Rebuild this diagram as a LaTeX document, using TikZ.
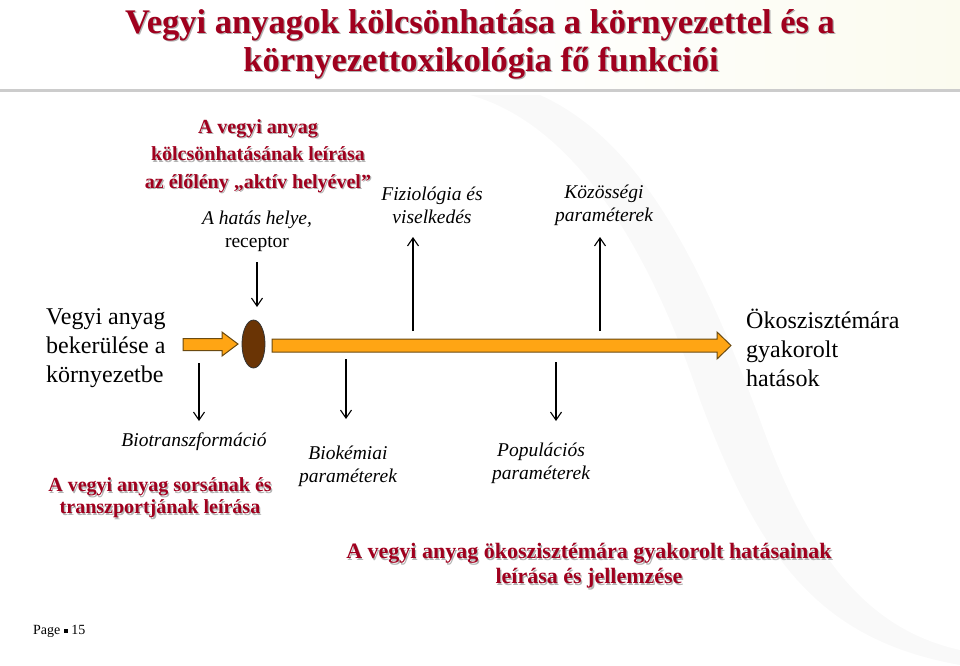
\documentclass[tikz,border=0pt]{standalone}
\usepackage{fontspec}
\setmainfont{Liberation Serif}
\usetikzlibrary{arrows.meta,shapes.geometric}
\definecolor{tred}{HTML}{A0001E}
\definecolor{orng}{HTML}{FFA514}
\definecolor{orbd}{HTML}{6B4A10}
\definecolor{brwn}{HTML}{6A3405}
\definecolor{cream}{HTML}{FBFBEF}
\newcommand\shtx[4]{%
  \node[#2,text=black!30] at ([shift={(1.3,1.3)}]#3) {#4};
  \node[#2] (#1) at (#3) {#4};}
\tikzset{
  ttl/.style={font=\fontsize{34.5}{38}\selectfont\bfseries, text=tred, align=center, inner sep=0},
  rtext/.style={font=\fontsize{20}{27.5}\selectfont\bfseries, text=tred, align=center, inner sep=0},
  rtextb/.style={font=\fontsize{22}{25}\selectfont\bfseries, text=tred, align=center, inner sep=0},
  rtextc/.style={font=\fontsize{20}{22}\selectfont\bfseries, text=tred, align=center, inner sep=0},
  itx/.style={font=\fontsize{19.5}{23}\selectfont\itshape, align=center, inner sep=0},
  side/.style={font=\fontsize{24}{29}\selectfont, align=left, inner sep=0, anchor=west},
  thin arrow/.style={line width=1.1pt, -{Straight Barb[length=8pt,width=11pt,line width=1.1pt]}},
  orarrow/.style={fill=orng, draw=orbd, line width=1pt, line join=miter}
}
\begin{document}
\begin{tikzpicture}[x=1pt,y=-1pt]
\useasboundingbox (0,0) rectangle (960,665);
% header band
\shade[left color=white, right color=cream, middle color=white] (0,0) rectangle (960,89);
\fill[black!20] (0,89) rectangle (960,92);
% faint background swoosh
\fill[black!2.5] (470,95) .. controls (560,120) and (640,220) .. (700,400) .. controls (760,560) and (820,640) .. (960,665) -- (960,95) -- cycle;
\fill[white] (540,95) .. controls (640,140) and (700,260) .. (760,420) .. controls (810,560) and (870,630) .. (960,650) -- (960,95) -- cycle;
% title
\shtx{t1}{ttl}{480,25}{Vegyi anyagok kölcsönhatása a környezettel és a}
\shtx{t2}{ttl}{481,63}{környezettoxikológia fő funkciói}
% top red block
\shtx{rb1}{rtext}{258,156}{A vegyi anyag\\kölcsönhatásának leírása\\az élőlény „aktív helyével”}
\node[itx] (hatas) at (257,231) {A hatás helye,\\\upshape receptor};
\node[itx] (fiz) at (432,205) {Fiziológia és\\viselkedés};
\node[itx] (koz) at (604,205) {Közösségi\\paraméterek};
% side texts
\node[side] (be) at (46,348) {Vegyi anyag\\bekerülése a\\környezetbe};
\node[side] (oko) at (746,348) {Ökoszisztémára\\gyakorolt\\hatások};
% orange arrows
\draw[orarrow] (183,338.5) -- (222,338.5) -- (222,332) -- (238,344) -- (222,356) -- (222,350.5) -- (183,350.5) -- cycle;
\draw[orarrow] (272,339) -- (717,339) -- (717,332) -- (731,345.5) -- (717,359) -- (717,352) -- (272,352) -- cycle;
% ellipse
\node[ellipse, draw=black!80, fill=brwn, line width=0.8pt, minimum width=23pt, minimum height=48pt, inner sep=0] (ell) at (253.5,344) {};
% thin arrows
\coordinate (a1s) at (257,262);
\coordinate (a1e) at (257,307);
\draw[thin arrow] (a1s) -- (a1e);
\coordinate (a2s) at (413,331);
\coordinate (a2e) at (413,237);
\draw[thin arrow] (a2s) -- (a2e);
\coordinate (a3s) at (600,331);
\coordinate (a3e) at (600,237);
\draw[thin arrow] (a3s) -- (a3e);
\coordinate (b1s) at (199,363);
\coordinate (b1e) at (199,421);
\draw[thin arrow] (b1s) -- (b1e);
\coordinate (b2s) at (346,359);
\coordinate (b2e) at (346,419);
\draw[thin arrow] (b2s) -- (b2e);
\coordinate (b3s) at (556,362);
\coordinate (b3e) at (556,421);
\draw[thin arrow] (b3s) -- (b3e);
% lower texts
\node[itx] (bio) at (194,442) {Biotranszformáció};
\shtx{rb2}{rtextc}{160,498}{A vegyi anyag sorsának és\\transzportjának leírása}
\node[itx] (biok) at (348,466) {Biokémiai\\paraméterek};
\node[itx] (pop) at (541,463) {Populációs\\paraméterek};
\shtx{rb3}{rtextb}{589,566}{A vegyi anyag ökoszisztémára gyakorolt hatásainak\\leírása és jellemzése}
% page
\node[font=\fontsize{14}{16}\selectfont, anchor=west, inner sep=0] (page) at (33,631) {Page \raisebox{1.5pt}{\rule{4pt}{4pt}} 15};
\end{tikzpicture}
\end{document}
